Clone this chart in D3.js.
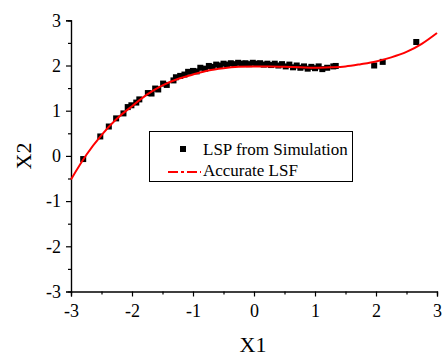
<!DOCTYPE html>
<html>
<head>
<meta charset="utf-8">
<script src="https://cdn.jsdelivr.net/npm/d3@7"></script>
<style>
  body { margin: 0; background: #fff; }
  svg { display: block; }
  svg text { font-family: "Liberation Serif", "DejaVu Serif", serif; fill: #000; }
</style>
</head>
<body>
<div id="chart"></div>
<script>
// accurate LSF curve
const curveX = [-3, -2.75, -2.5, -2.25, -2, -1.75, -1.5, -1.25, -1, -0.75, -0.5, -0.25, 0,
  0.25, 0.5, 0.75, 1, 1.25, 1.5, 1.75, 2, 2.25, 2.5, 2.75, 3];
const curveY = [-0.52, 0.02, 0.46, 0.82, 1.10, 1.36, 1.56, 1.70, 1.80, 1.89, 1.94, 1.97, 1.98,
  1.98, 1.97, 1.96, 1.95, 1.96, 1.98, 2.03, 2.09, 2.18, 2.30, 2.48, 2.72];

// LSP from simulation (squares)
const simX = [-2.80, -2.52, -2.38, -2.26, -2.14, -2.07, -2.01, -1.93, -1.88, -1.74, -1.68, -1.62,
  -1.57, -1.49, -1.43, -1.32, -1.28, -1.21, -1.14, -1.08, -1.00, -0.94, -0.88, -0.80, -0.74,
  -0.68, -0.62, -0.56, -0.50, -0.44, -0.38, -0.32, -0.26, -0.20, -0.14, -0.08, -0.02, 0.04,
  0.10, 0.16, 0.22, 0.28, 0.34, 0.40, 0.46, 0.52, 0.58, 0.64, 0.70, 0.76, 0.82, 0.88, 0.94,
  1.00, 1.06, 1.12, 1.20, 1.30, 1.34, 1.97, 2.11, 2.66];
const simY = [-0.07, 0.43, 0.65, 0.83, 0.94, 1.08, 1.12, 1.18, 1.25, 1.39, 1.38, 1.49,
  1.47, 1.60, 1.57, 1.67, 1.74, 1.77, 1.80, 1.86, 1.88, 1.87, 1.95, 1.93, 1.99,
  1.97, 2.02, 2.00, 2.04, 2.02, 2.05, 2.03, 2.06, 2.04, 2.05, 2.03, 2.06, 2.04,
  2.05, 2.02, 2.04, 2.01, 2.04, 2.00, 2.03, 1.98, 2.02, 1.96, 2.00, 1.95, 1.98, 1.93, 1.97,
  1.94, 1.98, 1.92, 1.95, 1.98, 1.99, 2.00, 2.08, 2.52];

const majorTicks = [-3, -2, -1, 0, 1, 2, 3];
const minorTicks = [-2.5, -1.5, -0.5, 0.5, 1.5, 2.5];
const legendLabels = ["LSP from Simulation", "Accurate LSF"];

const W = 444, H = 358;
const x = d3.scaleLinear().domain([-3, 3]).range([71, 437]);
const y = d3.scaleLinear().domain([-3, 3]).range([291.5, 20.3]);

const svg = d3.select("#chart").append("svg")
  .attr("width", W).attr("height", H);

function styleAxis(g) {
  g.attr("font-family", null);
  g.select(".domain").attr("stroke", "#000").attr("stroke-width", 1.2);
  g.selectAll(".tick line").attr("stroke", "#000").attr("stroke-width", 1.2);
  g.selectAll(".tick text").attr("fill", "#000").style("font-size", "18px");
}

// minor ticks first
svg.append("g")
  .attr("transform", `translate(0,${y(-3)})`)
  .call(d3.axisBottom(x).tickValues(minorTicks).tickSize(3).tickFormat(""))
  .call(styleAxis);
svg.append("g")
  .attr("transform", `translate(${x(-3)},0)`)
  .call(d3.axisLeft(y).tickValues(minorTicks).tickSize(3).tickFormat(""))
  .call(styleAxis);

const xAxis = svg.append("g")
  .attr("transform", `translate(0,${y(-3)})`)
  .call(d3.axisBottom(x).tickValues(majorTicks).tickSize(5).tickPadding(8).tickFormat(d3.format("d")))
  .call(styleAxis);
xAxis.selectAll(".tick text").text(d => d < 0 ? "-" + Math.abs(d) : d);

const yAxis = svg.append("g")
  .attr("transform", `translate(${x(-3)},0)`)
  .call(d3.axisLeft(y).tickValues(majorTicks).tickSize(5).tickPadding(5).tickFormat(d3.format("d")))
  .call(styleAxis);
yAxis.selectAll(".tick text").text(d => d < 0 ? "-" + Math.abs(d) : d);

// axis titles
svg.append("text")
  .attr("x", 253).attr("y", 351.5)
  .attr("text-anchor", "middle")
  .style("font-size", "22px")
  .text("X1");
svg.append("text")
  .attr("transform", "rotate(-90)")
  .attr("x", -156).attr("y", 31)
  .attr("text-anchor", "middle")
  .style("font-size", "22px")
  .text("X2");

// scatter squares
const sim = simX.map((v, i) => ({ x: v, y: simY[i] }));
const sq = 6;
svg.selectAll(".sim")
  .data(sim)
  .enter()
  .append("rect")
  .attr("class", "sim")
  .attr("x", d => x(d.x) - sq / 2)
  .attr("y", d => y(d.y) - sq / 2)
  .attr("width", sq).attr("height", sq)
  .attr("fill", "#000");

// accurate curve
const curve = curveX.map((v, i) => ({ x: v, y: curveY[i] }));
const line = d3.line()
  .x(d => x(d.x))
  .y(d => y(d.y))
  .curve(d3.curveMonotoneX);
svg.append("path")
  .datum(curve)
  .attr("fill", "none")
  .attr("stroke", "#ff0000")
  .attr("stroke-width", 2)
  .attr("d", line);

// legend
const legend = svg.append("g");
legend.append("rect")
  .attr("x", 149.5).attr("y", 131.5)
  .attr("width", 203).attr("height", 50)
  .attr("fill", "#fff")
  .attr("stroke", "#000").attr("stroke-width", 1);
legend.append("rect")
  .attr("x", 180).attr("y", 146)
  .attr("width", sq).attr("height", sq)
  .attr("fill", "#000");
legend.append("text")
  .attr("x", 203).attr("y", 155)
  .style("font-size", "17px")
  .text(legendLabels[0]);
legend.append("line")
  .attr("x1", 168).attr("x2", 201)
  .attr("y1", 172).attr("y2", 172)
  .attr("stroke", "#ff0000").attr("stroke-width", 2)
  .attr("stroke-dasharray", "10,3,3,3");
legend.append("text")
  .attr("x", 203).attr("y", 176)
  .style("font-size", "17px")
  .text(legendLabels[1]);
</script>
</body>
</html>
